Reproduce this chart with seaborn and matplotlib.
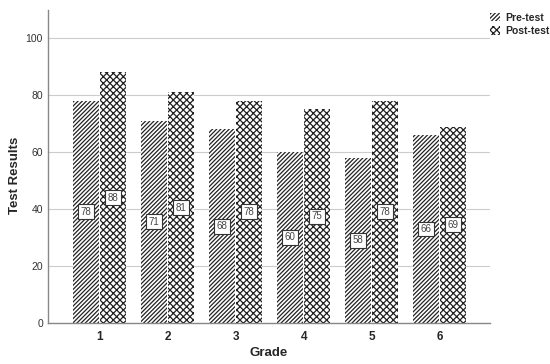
import pandas as pd
import matplotlib
matplotlib.use("Agg")
import matplotlib.pyplot as plt
import seaborn as sns

grades = ["1", "2", "3", "4", "5", "6"]
pre_test = [78, 71, 68, 60, 58, 66]
post_test = [88, 81, 78, 75, 78, 69]
series = ["Pre-test", "Post-test"]

df = pd.DataFrame({
    "Grade": grades * 2,
    "Score": pre_test + post_test,
    "Test": [series[0]] * len(grades) + [series[1]] * len(grades),
})

sns.set_style("white")
plt.rcParams["font.family"] = ["Liberation Sans", "DejaVu Sans"]
plt.rcParams["hatch.linewidth"] = 0.9

fig = plt.figure(figsize=(5.5, 3.64), dpi=100)
ax = fig.add_axes([0.087, 0.113, 0.804, 0.86])

sns.barplot(data=df, x="Grade", y="Score", hue="Test", ax=ax,
            color="white", width=0.8, gap=0.05, errorbar=None,
            edgecolor="#222222", linewidth=0)

hatches = ["////////", "xxxxx"]
for cont, h in zip(ax.containers, hatches):
    for bar in cont:
        bar.set_hatch(h)
        bar.set_facecolor("white")
        bar.set_edgecolor("#222222")
        bar.set_linewidth(0)
        val = bar.get_height()
        ax.text(bar.get_x() + bar.get_width() / 2, val / 2, f"{val:.0f}",
                ha="center", va="center", fontsize=7, color="#444444",
                bbox=dict(boxstyle="square,pad=0.25", fc="white",
                          ec="#333333", lw=0.8))

ax.set_ylim(0, 110)
ax.set_xlim(-0.76, 5.74)
ax.set_yticks([0, 20, 40, 60, 80, 100])
ax.yaxis.grid(True, color="#cccccc", linewidth=0.8)
ax.set_axisbelow(True)
for s in ["top", "right"]:
    ax.spines[s].set_visible(False)
for s in ["left", "bottom"]:
    ax.spines[s].set_color("#888888")
    ax.spines[s].set_linewidth(1)

ax.tick_params(axis="y", labelsize=7.5, colors="#333333", length=0)
ax.tick_params(axis="x", labelsize=8.5, length=0, pad=6)
for t in ax.get_xticklabels():
    t.set_fontweight("bold")

ax.set_xlabel("Grade", fontsize=9.5, fontweight="bold")
ax.set_ylabel("Test Results", fontsize=9.5, fontweight="bold")
ax.xaxis.set_label_coords(0.5, -0.096)
ax.xaxis.label.set_verticalalignment("center")
ax.yaxis.set_label_coords(-0.075, 0.47)
ax.yaxis.label.set_verticalalignment("center")

leg = ax.legend(loc="upper left", bbox_to_anchor=(0.878, 0.985),
                bbox_transform=fig.transFigure, frameon=False,
                fontsize=7.5, handlelength=0.9, handleheight=0.9,
                handletextpad=0.5, labelspacing=0.3, borderpad=0.2)
for t in leg.get_texts():
    t.set_fontweight("bold")
for p, h in zip(leg.get_patches(), hatches):
    p.set_hatch(h)
    p.set_facecolor("white")
    p.set_edgecolor("#222222")
    p.set_linewidth(0)

fig.savefig("out.png", dpi=100)
